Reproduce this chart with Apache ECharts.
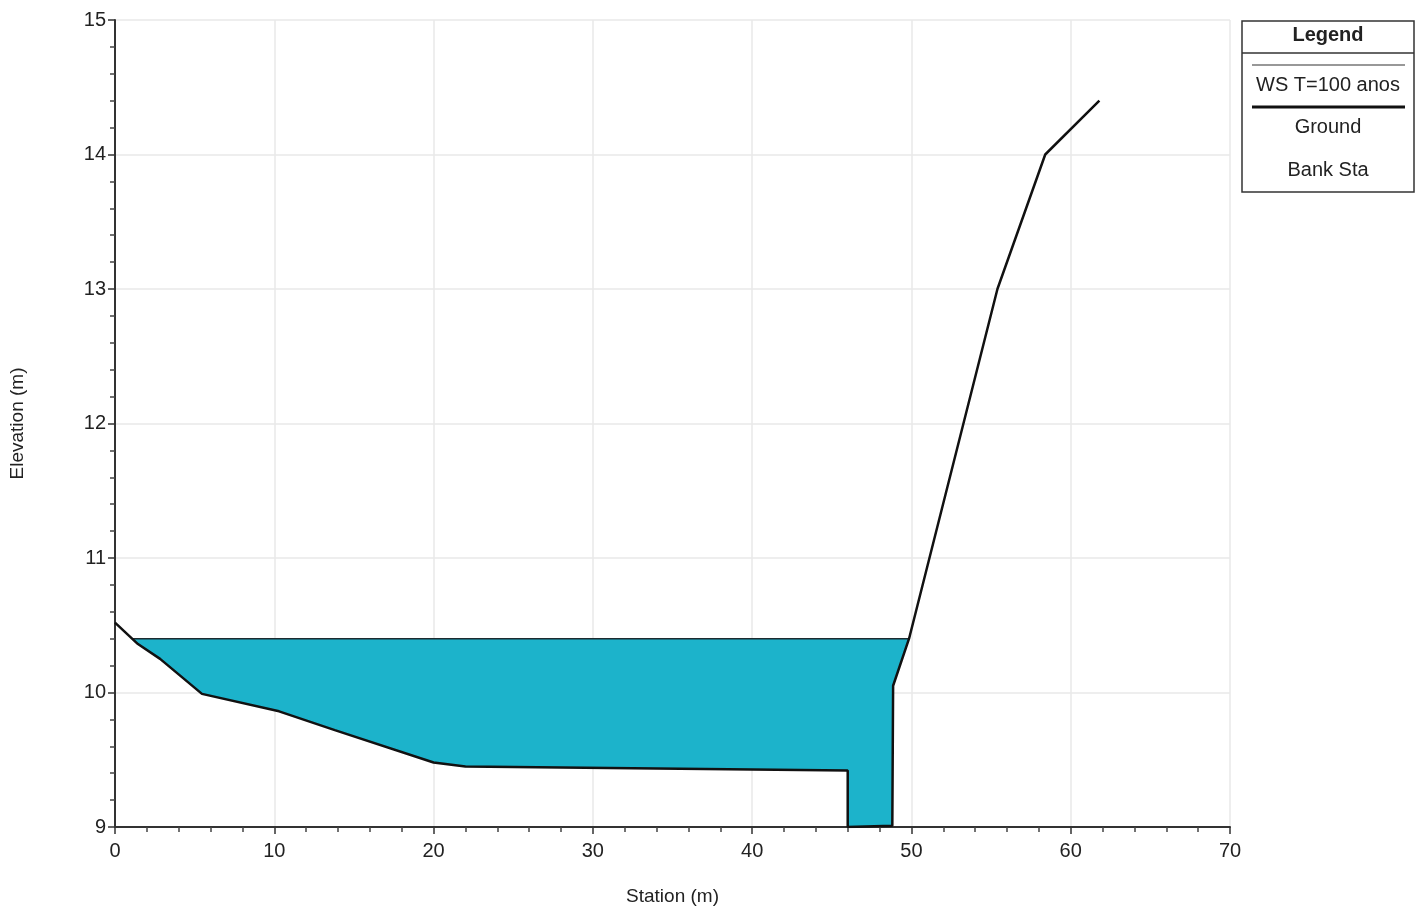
<!DOCTYPE html>
<html><head><meta charset="utf-8">
<script src="https://cdn.jsdelivr.net/npm/echarts@6/dist/echarts.min.js"></script>
<style>html,body{margin:0;padding:0;background:#fff}#c{width:1420px;height:911px}</style>
</head><body><div id="c"></div>
<script>
// Ground profile (station m, elevation m)
const groundStation = [0, 1.44, 2.83, 5.46, 10.3, 13.8, 20.0, 22.0, 46.0, 46.0, 48.8, 48.85, 49.85, 55.4, 58.4, 61.8];
const groundElev    = [10.52, 10.36, 10.25, 9.99, 9.86, 9.72, 9.48, 9.45, 9.42, 9.0, 9.01, 10.05, 10.40, 13.0, 14.0, 14.4];
// Water surface T=100 anos
const wsElevation = 10.40;
// Axes
const xTicks = [0, 10, 20, 30, 40, 50, 60, 70];
const yTicks = [9, 10, 11, 12, 13, 14, 15];
const legendItems = ['WS T=100 anos', 'Ground', 'Bank Sta'];

const ground = groundStation.map((s, i) => [s, groundElev[i]]);

// intersections of the water surface with the ground
function crossings(level) {
  const out = [];
  for (let i = 0; i < ground.length - 1; i++) {
    const [x1, y1] = ground[i], [x2, y2] = ground[i + 1];
    if ((y1 >= level && y2 < level) || (y1 < level && y2 >= level)) {
      const t = (level - y1) / (y2 - y1);
      out.push({ i, x: x1 + t * (x2 - x1) });
    }
  }
  return out;
}
const cr = crossings(wsElevation);
const left = cr[0], right = cr[cr.length - 1];
const waterPoly = [[left.x, wsElevation]];
for (let i = left.i + 1; i <= right.i; i++) waterPoly.push(ground[i]);
waterPoly.push([right.x, wsElevation]);
const wsLine = [[left.x, wsElevation], [right.x, wsElevation]];

const font = 'Liberation Sans, Arial, sans-serif';
const chart = echarts.init(document.getElementById('c'));
const axisCommon = {
  type: 'value',
  axisLine: { show: true, onZero: false, lineStyle: { color: '#333', width: 2 } },
  axisTick: { show: true, length: 7, lineStyle: { color: '#333', width: 1.5 } },
  minorTick: { show: true, splitNumber: 5, length: 5, lineStyle: { color: '#444', width: 1.5 } },
  splitLine: { show: true, lineStyle: { color: '#e8e8e8', width: 1.5 } },
  axisLabel: { fontSize: 20, color: '#222', fontFamily: font },
  nameLocation: 'middle',
  nameTextStyle: { fontSize: 19, color: '#222', fontFamily: font }
};
chart.setOption({
  animation: false,
  backgroundColor: '#fff',
  grid: { left: 115, right: 190, top: 20, bottom: 84 },
  xAxis: Object.assign({}, axisCommon, {
    min: xTicks[0], max: xTicks[xTicks.length - 1], interval: 10,
    name: 'Station (m)', nameGap: 60,
    axisLabel: Object.assign({}, axisCommon.axisLabel, { margin: 14 })
  }),
  yAxis: Object.assign({}, axisCommon, {
    min: yTicks[0], max: yTicks[yTicks.length - 1], interval: 1,
    name: 'Elevation (m)', nameGap: 88,
    axisLabel: Object.assign({}, axisCommon.axisLabel, { margin: 9 })
  }),
  series: [
    {
      type: 'custom', name: 'water', coordinateSystem: 'cartesian2d', clip: true, z: 1,
      data: [waterPoly[0]],
      renderItem: function (params, api) {
        return {
          type: 'polygon',
          shape: { points: waterPoly.map(p => api.coord(p)) },
          style: { fill: '#1cb3cb', stroke: null }
        };
      }
    },
    {
      type: 'line', name: legendItems[0], data: wsLine, symbol: 'none', z: 3,
      lineStyle: { color: '#1d2b30', width: 1.5 }
    },
    {
      type: 'line', name: legendItems[1], data: ground, symbol: 'none', z: 4,
      lineStyle: { color: '#111', width: 2.5 }
    }
  ],
  graphic: [
    { type: 'rect', shape: { x: 1242, y: 21, width: 172, height: 171 }, style: { fill: '#fff', stroke: '#333', lineWidth: 1.5 } },
    { type: 'line', shape: { x1: 1242, y1: 53, x2: 1414, y2: 53 }, style: { stroke: '#333', lineWidth: 1.5 } },
    { type: 'text', x: 1328, y: 35, style: { text: 'Legend', font: 'bold 20px ' + font, fill: '#222', align: 'center', verticalAlign: 'middle' } },
    { type: 'line', shape: { x1: 1252, y1: 65, x2: 1405, y2: 65 }, style: { stroke: '#333', lineWidth: 1.2 } },
    { type: 'text', x: 1328, y: 85, style: { text: legendItems[0], font: '20px ' + font, fill: '#222', align: 'center', verticalAlign: 'middle' } },
    { type: 'line', shape: { x1: 1252, y1: 107, x2: 1405, y2: 107 }, style: { stroke: '#111', lineWidth: 3 } },
    { type: 'text', x: 1328, y: 127, style: { text: legendItems[1], font: '20px ' + font, fill: '#222', align: 'center', verticalAlign: 'middle' } },
    { type: 'text', x: 1328, y: 170, style: { text: legendItems[2], font: '20px ' + font, fill: '#222', align: 'center', verticalAlign: 'middle' } }
  ]
});
</script></body></html>
